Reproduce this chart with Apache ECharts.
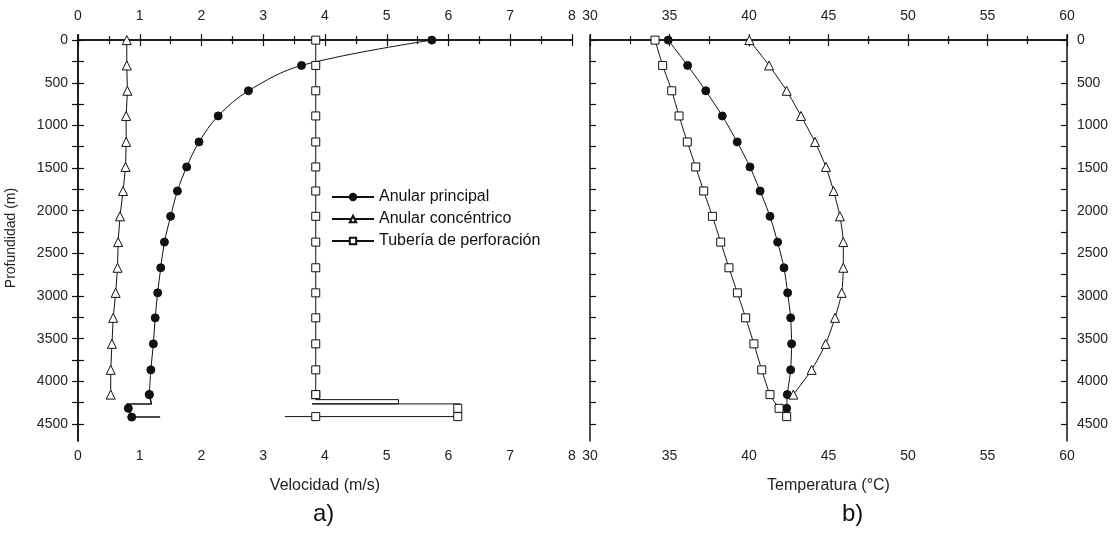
<!DOCTYPE html>
<html>
<head>
<meta charset="utf-8">
<script src="https://cdn.jsdelivr.net/npm/echarts@6/dist/echarts.min.js"></script>
<style>html,body{margin:0;padding:0;background:#fff}#c{width:1120px;height:533px}</style>
</head>
<body>
<div id="c"></div>
<script>
// ---- data ----
const seriesNames = ['Anular principal', 'Anular concéntrico', 'Tubería de perforación'];
const depth = [0, 297, 594, 889, 1194, 1487, 1769, 2066, 2368, 2669, 2963, 3256, 3561, 3866, 4156];
// panel a) velocity (m/s)
const velPrincipal   = [5.73, 3.62, 2.76, 2.27, 1.96, 1.76, 1.61, 1.50, 1.40, 1.34, 1.29, 1.25, 1.22, 1.18, 1.155];
const velConcentrico = [0.79, 0.79, 0.80, 0.78, 0.78, 0.77, 0.73, 0.68, 0.65, 0.64, 0.61, 0.57, 0.55, 0.53, 0.53];
const velTuberia     = [3.85, 3.85, 3.85, 3.85, 3.85, 3.85, 3.85, 3.85, 3.85, 3.85, 3.85, 3.85, 3.85, 3.85, 3.85];
// bottom-hole tails (velocity, depth, has marker)
const velPrincipalTail      = [1.155, 1.19, 0.79, 0.815, 0.87, 1.33];
const depthPrincipalTail    = [4156, 4265, 4265, 4317, 4420, 4420];
const markPrincipalTail     = [1, 0, 0, 1, 1, 0];
const velTuberiaTail        = [3.85, 3.85, 5.19, 5.19, 3.79, 6.19, 6.15, 6.15, 3.85, 3.35];
const depthTuberiaTail      = [4156, 4215, 4215, 4265, 4265, 4265, 4317, 4414, 4414, 4414];
const markTuberiaTail       = [1, 0, 0, 0, 0, 0, 1, 1, 1, 0];
// panel b) temperature (°C)
const depthTempTuberia   = [0, 297, 594, 889, 1194, 1487, 1769, 2066, 2368, 2669, 2963, 3256, 3561, 3866, 4156, 4317, 4414];
const tempTuberia        = [34.09, 34.57, 35.14, 35.6, 36.12, 36.65, 37.15, 37.7, 38.22, 38.74, 39.27, 39.79, 40.31, 40.8, 41.32, 41.89, 42.37];
const depthTempPrincipal = [0, 297, 594, 889, 1194, 1487, 1769, 2066, 2368, 2669, 2963, 3256, 3561, 3866, 4156, 4317];
const tempPrincipal      = [34.92, 36.14, 37.28, 38.32, 39.26, 40.06, 40.7, 41.32, 41.8, 42.2, 42.43, 42.62, 42.68, 42.62, 42.41, 42.37];
const tempConcentrico    = [40.02, 41.26, 42.37, 43.27, 44.15, 44.84, 45.32, 45.72, 45.93, 45.93, 45.83, 45.41, 44.82, 43.94, 42.79];
// ticks
const depthLabels = [0, 500, 1000, 1500, 2000, 2500, 3000, 3500, 4000, 4500];
const depthTicks  = [0, 250, 500, 750, 1000, 1250, 1500, 1750, 2000, 2250, 2500, 2750, 3000, 3250, 3500, 3750, 4000, 4250, 4500];

// ---- build ----
const FONT = 'Liberation Sans, Arial, sans-serif';
const pair = (xs, ys) => xs.map((x, i) => [x, ys[i]]);
const tail = (xs, ys, marks, sym) => xs.map((x, i) => ({value: [x, ys[i]], symbol: marks[i] ? sym : 'none'}));

const styles = {
  'Anular principal': {symbol: 'circle', symbolSize: 8, itemStyle: {color: '#111', borderColor: '#111', borderWidth: 1}},
  'Anular concéntrico': {symbol: 'triangle', symbolSize: 9, itemStyle: {color: '#fff', borderColor: '#111', borderWidth: 1}},
  'Tubería de perforación': {symbol: 'rect', symbolSize: 8, itemStyle: {color: '#fff', borderColor: '#111', borderWidth: 1}}
};
function line(name, data, xi, yi, smooth, extra) {
  return Object.assign({
    type: 'line', name: name, data: data, xAxisIndex: xi, yAxisIndex: yi,
    smooth: smooth, showSymbol: true, animation: false,
    lineStyle: {color: '#111', width: 1}, z: 3,
    emphasis: {disabled: true}
  }, styles[name], extra || {});
}

const axisLineStyle = {show: true, lineStyle: {color: '#111', width: 1.5}};
const labelStyle = {color: '#222', fontSize: 14, fontFamily: FONT, formatter: v => String(v)};

function xAx(grid, pos, min, max, interval, showName, name) {
  return {
    type: 'value', gridIndex: grid, position: pos, min: min, max: max, interval: interval,
    axisLine: axisLineStyle,
    axisTick: {show: true, inside: true, length: 6, lineStyle: {color: '#111', width: 1.2}},
    minorTick: {show: true, splitNumber: 2, length: 4, lineStyle: {color: '#111', width: 1.2}},
    splitLine: {show: false}, minorSplitLine: {show: false},
    axisLabel: Object.assign({margin: pos === 'top' ? 12 : 8}, labelStyle),
    name: showName ? name : '', nameLocation: 'middle', nameGap: 37,
    nameTextStyle: {color: '#222', fontSize: 16, fontFamily: FONT}
  };
}
function yAx(grid, pos, showLabels, name) {
  return {
    type: 'value', gridIndex: grid, position: pos, inverse: true, min: -60, max: 4700,
    axisLine: axisLineStyle,
    axisTick: {show: true, inside: true, length: 6, customValues: depthTicks, lineStyle: {color: '#111', width: 1.2}},
    splitLine: {show: false},
    axisLabel: Object.assign({show: showLabels, margin: 10, customValues: depthLabels}, labelStyle),
    name: name || '', nameLocation: 'middle', nameGap: 60, nameRotate: 90,
    nameTextStyle: {color: '#222', fontSize: 14, fontFamily: FONT}
  };
}

const option = {
  backgroundColor: '#fff',
  animation: false,
  textStyle: {fontFamily: FONT},
  grid: [
    {left: 78, top: 35, width: 494, height: 406},
    {left: 590, top: 35, width: 477, height: 406}
  ],
  xAxis: [
    xAx(0, 'bottom', 0, 8, 1, true, 'Velocidad (m/s)'),
    xAx(0, 'top', 0, 8, 1, false),
    xAx(1, 'bottom', 30, 60, 5, true, 'Temperatura (°C)'),
    xAx(1, 'top', 30, 60, 5, false)
  ],
  yAxis: [
    yAx(0, 'left', true, 'Profundidad (m)'),
    yAx(0, 'right', false),
    yAx(1, 'left', false),
    yAx(1, 'right', true)
  ],
  legend: {
    orient: 'vertical', left: 326, top: 184, itemWidth: 42, itemHeight: 8, itemGap: 6,
    data: seriesNames,
    textStyle: {color: '#111', fontSize: 16, fontFamily: FONT},
    selectedMode: false
  },
  series: [
    line('Anular principal', pair(velPrincipal, depth), 0, 0, 0.35),
    line('Anular concéntrico', pair(velConcentrico, depth), 0, 0, false),
    line('Tubería de perforación', pair(velTuberia, depth), 0, 0, false),
    line('Anular principal', tail(velPrincipalTail, depthPrincipalTail, markPrincipalTail, 'circle'), 0, 0, false, {name: 'Anular principal (fondo)', lineStyle: {color: '#111', width: 1.5}}),
    line('Tubería de perforación', tail(velTuberiaTail, depthTuberiaTail, markTuberiaTail, 'rect'), 0, 0, false, {name: 'Tubería de perforación (fondo)'}),
    line('Anular principal', pair(tempPrincipal, depthTempPrincipal), 2, 2, 0.2),
    line('Anular concéntrico', pair(tempConcentrico, depth), 2, 2, 0.2),
    line('Tubería de perforación', pair(tempTuberia, depthTempTuberia), 2, 2, 0.2)
  ],
  graphic: [
    {type: 'text', left: 313, top: 502, style: {text: 'a)', font: '24px ' + FONT, fill: '#111'}},
    {type: 'text', left: 842, top: 502, style: {text: 'b)', font: '24px ' + FONT, fill: '#111'}}
  ]
};
const chart = echarts.init(document.getElementById('c'), null, {renderer: 'canvas'});
chart.setOption(option);
</script>
</body>
</html>
